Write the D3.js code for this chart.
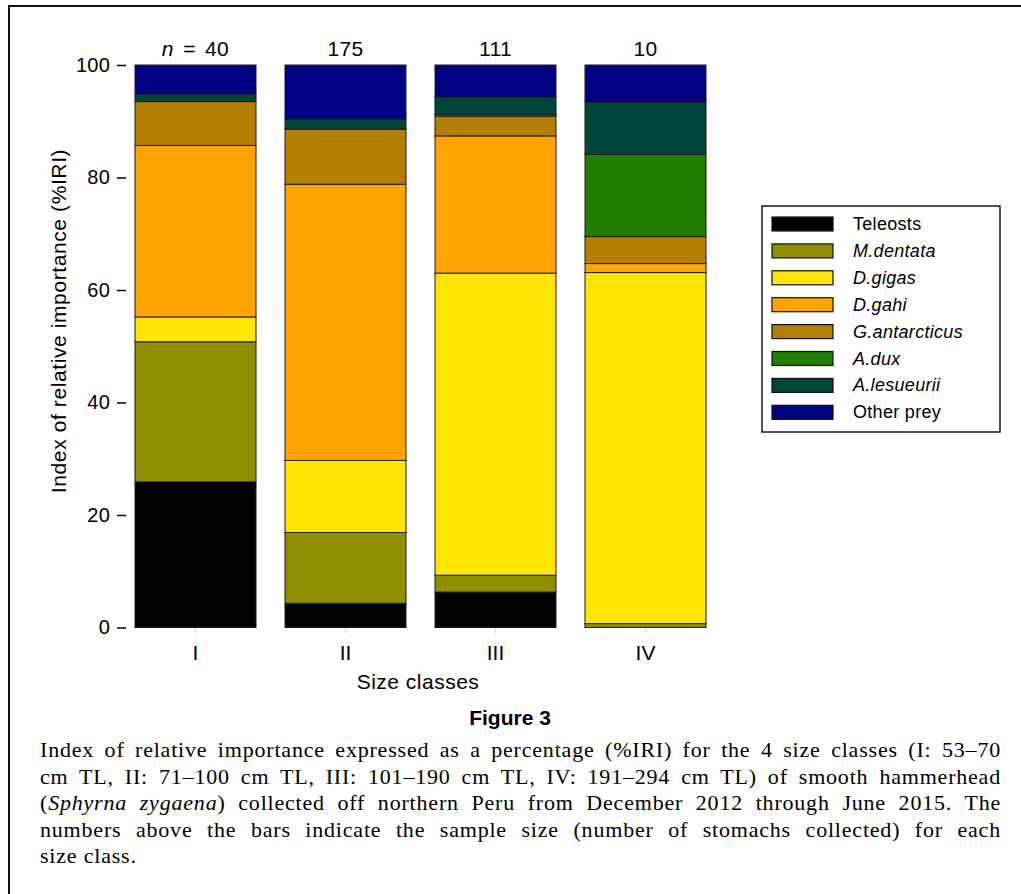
<!DOCTYPE html>
<html>
<head>
<meta charset="utf-8">
<script src="https://cdn.jsdelivr.net/npm/d3@7"></script>
<style>
	body { margin: 0; background: #fff; }
	svg { display: block; }
</style>
</head>
<body>
<div id="chart"></div>
<script>
"use strict"

//
// Data (%IRI per size class)
//
var sizeClasses = ["I", "II", "III", "IV"];
var sampleSizes = [40, 175, 111, 10];
var preyNames = ["Teleosts", "M.dentata", "D.gigas", "D.gahi", "G.antarcticus", "A.dux", "A.lesueurii", "Other prey"];
var preyItalic = [false, true, true, true, true, true, true, false];
var preyColors = ["#000000", "#8e8e00", "#ffe600", "#ffa300", "#b47f00", "#237e00", "#00453a", "#000080"];

var teleosts     = [25.9,  4.3,  6.3,  0.0];
var mDentata     = [24.9, 12.6,  3.0,  0.7];
var dGigas       = [ 4.4, 12.8, 53.7, 62.4];
var dGahi        = [30.5, 49.1, 24.4,  1.6];
var gAntarcticus = [ 7.8,  9.8,  3.5,  4.8];
var aDux         = [ 0.0,  0.0,  0.3, 14.6];
var aLesueurii   = [ 1.3,  1.8,  3.1,  9.3];
var otherPrey    = [ 5.2,  9.6,  5.7,  6.6];

var yTicks = [0, 20, 40, 60, 80, 100];

var captionLines = [
	[["Index of relative importance expressed as a percentage (%IRI) for the 4 size classes (I: 53\u201370", false]],
	[["cm TL, II: 71\u2013100 cm TL, III: 101\u2013190 cm TL, IV: 191\u2013294 cm TL) of smooth hammerhead", false]],
	[["(", false], ["Sphyrna zygaena", true], [") collected off northern Peru from December 2012 through June 2015. The", false]],
	[["numbers above the bars indicate the sample size (number of stomachs collected) for each", false]],
	[["size class.", false]]
];

var seriesValues = [teleosts, mDentata, dGigas, dGahi, gAntarcticus, aDux, aLesueurii, otherPrey];

//
// Layout
//
var WIDTH = 1021, HEIGHT = 894;
var SANS = "'Liberation Sans', Arial, Helvetica, sans-serif";
var SERIF = "'Liberation Serif', 'Times New Roman', serif";

var svg = d3.select("#chart").append("svg")
	.attr("width", WIDTH)
	.attr("height", HEIGHT)
	.style("font-family", SANS)
	;

svg.append("rect")
	.attr("x", 0).attr("y", 0)
	.attr("width", WIDTH).attr("height", HEIGHT)
	.attr("fill", "#fff")
	;

// outer frame (runs off the right and bottom edge)
svg.append("rect")
	.attr("x", 9).attr("y", 6)
	.attr("width", WIDTH + 10).attr("height", HEIGHT + 10)
	.attr("fill", "none")
	.attr("stroke", "#111")
	.attr("stroke-width", 2)
	;

var x = d3.scaleBand()
	.domain(sizeClasses)
	.range([120.5, 720.5])
	.paddingInner(0.1933)
	.paddingOuter(0.0967)
	;

var y = d3.scaleLinear()
	.domain([0, 100])
	.range([627.5, 65])
	;

//
// Stack
//
var rows = sizeClasses.map(function(c, i) {
	var r = {cls: c};
	preyNames.forEach(function(p, j) { r[p] = seriesValues[j][i]; });
	return r;
});
var stacked = d3.stack().keys(preyNames)(rows);

var gBars = svg.append("g").attr("id", "gBars");
gBars.selectAll("g")
	.data(stacked)
	.enter().append("g")
		.attr("fill", function(d, i) { return preyColors[i]; })
	.selectAll("rect")
	.data(function(d) { return d; })
	.enter().append("rect")
		.attr("x", function(d) { return x(d.data.cls); })
		.attr("y", function(d) { return y(d[1]); })
		.attr("width", x.bandwidth())
		.attr("height", function(d) { return y(d[0]) - y(d[1]); })
		.attr("stroke", "#1c1c1c")
		.attr("stroke-width", 1)
		;

//
// Axes
//
var yAxis = svg.append("g")
	.attr("transform", "translate(126,0)")
	.call(d3.axisLeft(y).tickValues(yTicks).tickSize(9).tickPadding(7))
	;
yAxis.select(".domain").remove();
yAxis.selectAll("line").attr("stroke", "#000").attr("stroke-width", 1.5);
yAxis.selectAll("text")
	.attr("font-family", SANS)
	.attr("font-size", 20)
	.attr("letter-spacing", 0.2)
	.attr("fill", "#000")
	;

var xAxis = svg.append("g")
	.attr("transform", "translate(0,628)")
	.call(d3.axisBottom(x).tickSize(5).tickPadding(12))
	;
xAxis.select(".domain").remove();
xAxis.selectAll("line").attr("stroke", "#d8d8d8").attr("stroke-width", 1);
xAxis.selectAll("text")
	.attr("font-family", SANS)
	.attr("font-size", 21)
	.attr("fill", "#000")
	;

svg.append("text")
	.attr("x", 418).attr("y", 689)
	.attr("text-anchor", "middle")
	.attr("font-size", 21)
	.attr("letter-spacing", 0.5)
	.text("Size classes")
	;

svg.append("text")
	.attr("transform", "translate(66,321) rotate(-90)")
	.attr("text-anchor", "middle")
	.attr("font-size", 21)
	.attr("letter-spacing", 0.6)
	.text("Index of relative importance (%IRI)")
	;

// sample sizes above the bars
var nText = svg.selectAll(".nlabel")
	.data(sizeClasses)
	.enter().append("text")
		.attr("class", "nlabel")
		.attr("x", function(d) { return x(d) + x.bandwidth() / 2; })
		.attr("y", 56)
		.attr("text-anchor", "middle")
		.attr("font-size", 21)
		.attr("letter-spacing", 0.4)
		;
nText.each(function(d, i) {
	var t = d3.select(this);
	if (i == 0) {
		t.append("tspan").attr("font-style", "italic").text("n");
		t.append("tspan").attr("word-spacing", 3).text(" = " + sampleSizes[i]);
	} else {
		t.text(sampleSizes[i]);
	}
});

//
// Legend
//
var gLegend = svg.append("g").attr("id", "gLegend");
gLegend.append("rect")
	.attr("x", 762).attr("y", 206)
	.attr("width", 238).attr("height", 226)
	.attr("fill", "#fff")
	.attr("stroke", "#1a1a1a")
	.attr("stroke-width", 1.5)
	;
var legRow = gLegend.selectAll(".legrow")
	.data(preyNames)
	.enter().append("g")
		.attr("class", "legrow")
		.attr("transform", function(d, i) { return "translate(0," + (224 + i * 26.9) + ")"; })
		;
legRow.append("rect")
	.attr("x", 772).attr("y", -7)
	.attr("width", 61).attr("height", 14)
	.attr("fill", function(d, i) { return preyColors[i]; })
	.attr("stroke", "#111")
	.attr("stroke-width", 1.2)
	;
legRow.append("text")
	.attr("x", 853).attr("y", 6)
	.attr("font-size", 18)
	.attr("letter-spacing", 0.3)
	.attr("font-style", function(d, i) { return preyItalic[i] ? "italic" : "normal"; })
	.text(function(d) { return d; })
	;

//
// Caption
//
svg.append("text")
	.attr("x", 510).attr("y", 725)
	.attr("text-anchor", "middle")
	.attr("font-family", "'Liberation Sans Narrow', 'Liberation Sans', sans-serif")
	.attr("font-weight", "bold")
	.attr("font-size", 21)
	.text("Figure 3")
	;

var CAP_LEFT = 40, CAP_RIGHT = 1001;
captionLines.forEach(function(parts, i) {
	var t = svg.append("text")
		.attr("x", CAP_LEFT)
		.attr("y", 757 + i * 26.6)
		.attr("font-family", SERIF)
		.attr("font-size", 22)
		.attr("letter-spacing", 0.8)
		.attr("fill", "#000")
		;
	parts.forEach(function(p) {
		t.append("tspan")
			.attr("font-style", p[1] ? "italic" : "normal")
			.text(p[0]);
	});
	// justify every line but the last by spreading the word gaps
	if (i < captionLines.length - 1) {
		var natural = t.node().getComputedTextLength();
		var full = parts.map(function(p) { return p[0]; }).join("");
		var gaps = full.split(" ").length - 1;
		if (gaps > 0) t.attr("word-spacing", (CAP_RIGHT - CAP_LEFT - natural) / gaps);
	}
});
</script>
</body>
</html>
